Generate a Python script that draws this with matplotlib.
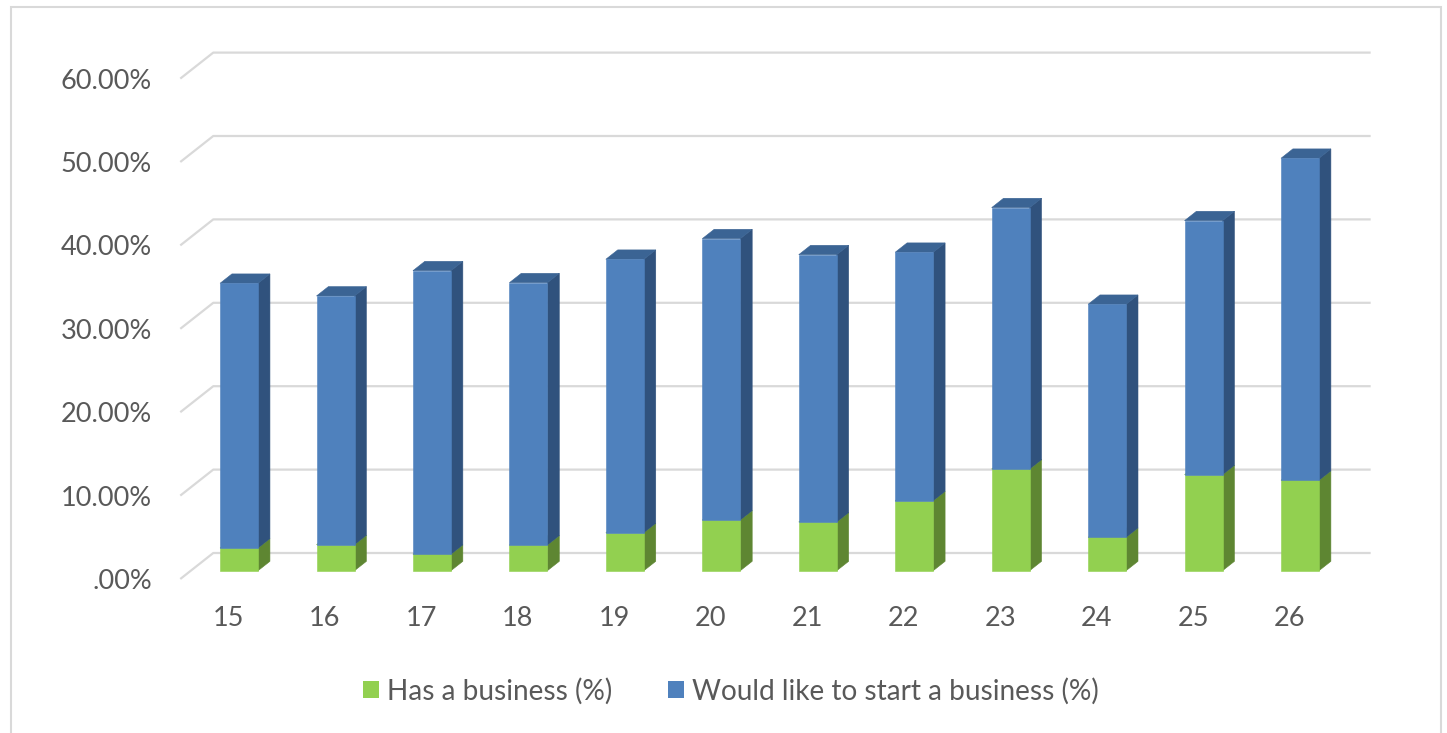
import matplotlib
matplotlib.use("Agg")
import matplotlib.pyplot as plt
from matplotlib.patches import Polygon, Patch, Rectangle
from matplotlib.lines import Line2D

# ---------------- data ----------------
ages = ["15", "16", "17", "18", "19", "20", "21", "22", "23", "24", "25", "26"]
has_business = [2.72, 3.12, 1.97, 3.08, 4.56, 6.08, 5.84, 8.39, 12.19, 4.00, 11.51, 10.84]
would_like = [31.74, 29.82, 34.00, 31.45, 32.78, 33.73, 32.05, 29.79, 31.34, 27.94, 30.46, 38.61]
y_ticks = [0, 10, 20, 30, 40, 50, 60]
y_tick_labels = [".00%", "10.00%", "20.00%", "30.00%", "40.00%", "50.00%", "60.00%"]
series_names = ["Has a business (%)", "Would like to start a business (%)"]

# ---------------- style ----------------
FONT = ["Lato", "DejaVu Sans"]
FS = 19.5
LEG_FS = 20.2
TEXT_C = "#595959"
GRID_C = "#D9D9D9"
COLORS = {
    "green": ("#92D050", "#5E8632", "#79B043"),
    "blue": ("#4F81BD", "#30527D", "#3B6494"),
}

W, H, DPI = 1447, 733, 100
fig = plt.figure(figsize=(W / DPI, H / DPI), dpi=DPI)
fig.patch.set_facecolor("white")

# pixel geometry of the oblique projection
PX_CAT = 96.45      # px per category
PX_PCT = 8.34       # px per percent
X0, Y0 = 228.5, 579.0   # px of category 0 / value 0 on the front plane
XLIM = (-0.80, 12.2)
YLIM = (-1.0, 64.0)
left_px = X0 + XLIM[0] * PX_CAT
right_px = X0 + XLIM[1] * PX_CAT
bot_px = Y0 - YLIM[0] * PX_PCT
top_px = Y0 - YLIM[1] * PX_PCT
ax = fig.add_axes([left_px / W, (H - bot_px) / H, (right_px - left_px) / W, (bot_px - top_px) / H])
ax.set_xlim(*XLIM)
ax.set_ylim(*YLIM)
for s in ax.spines.values():
    s.set_visible(False)
ax.set_facecolor("none")

DX = 33.0 / PX_CAT   # full depth, x
DY = 26.0 / PX_PCT   # full depth, y
D0, D1 = 0.32, 0.68  # bar depth range
HW = 19.0 / PX_CAT   # bar half width

n = len(ages)
# gridlines: floor/side diagonal + back wall line
for v in y_ticks:
    ax.add_line(Line2D([-0.5, -0.5 + DX, n - 0.5 + DX], [v, v + DY, v + DY],
                       color=GRID_C, lw=1.6, zorder=1, solid_capstyle="butt"))


def draw_segment(xc, b, t, cols, z):
    front, side, top = cols
    fx0, fx1 = xc - HW + D0 * DX, xc + HW + D0 * DX
    bx0, bx1 = xc - HW + D1 * DX, xc + HW + D1 * DX
    fb, ft = b + D0 * DY, t + D0 * DY
    bb, bt = b + D1 * DY, t + D1 * DY
    ax.add_patch(Polygon([(fx1, fb), (bx1, bb), (bx1, bt), (fx1, ft)], closed=True,
                         facecolor=side, edgecolor=side, lw=0.4, zorder=z))
    ax.add_patch(Polygon([(fx0, ft), (fx1, ft), (bx1, bt), (bx0, bt)], closed=True,
                         facecolor=top, edgecolor=top, lw=0.4, zorder=z))
    ax.add_patch(Polygon([(fx0, fb), (fx1, fb), (fx1, ft), (fx0, ft)], closed=True,
                         facecolor=front, edgecolor=front, lw=0.4, zorder=z + 0.1))


for i in range(n):
    g = has_business[i]
    w = would_like[i]
    draw_segment(i, 0, g, COLORS["green"], 3)
    draw_segment(i, g, g + w, COLORS["blue"], 4)

# ticks
ax.set_xticks(range(n))
ax.set_xticklabels(ages)
ax.set_yticks(y_ticks)
ax.set_yticklabels(y_tick_labels)
ax.tick_params(axis="both", length=0, colors=TEXT_C, labelsize=FS)
ax.tick_params(axis="y", pad=(left_px - 152.0) / DPI * 72)
ax.tick_params(axis="x", pad=(619.0 - bot_px) / DPI * 72)
for lbl in ax.get_xticklabels():
    lbl.set_va("center")
    lbl.set_family(FONT)
for lbl in ax.get_yticklabels():
    lbl.set_family(FONT)

# legend
handles = [Patch(facecolor=COLORS["green"][0], edgecolor="none"),
           Patch(facecolor=COLORS["blue"][0], edgecolor="none")]
pt = 72.0 / DPI
leg = fig.legend(handles, series_names, loc="center", bbox_to_anchor=(731 / W, 1 - 691 / H),
                 ncol=2, frameon=False, prop={"family": FONT, "size": LEG_FS},
                 handlelength=16 * pt / LEG_FS, handleheight=16 * pt / LEG_FS,
                 handletextpad=8 * pt / LEG_FS, columnspacing=56 * pt / LEG_FS, borderpad=0)
for t in leg.get_texts():
    t.set_color(TEXT_C)

# outer chart border
fig.add_artist(Rectangle((11 / W, -0.05), (1441 - 11) / W, (H - 7) / H + 0.05,
                         transform=fig.transFigure, fill=False, edgecolor=GRID_C, lw=1.5))

fig.savefig("out.png", dpi=DPI, facecolor="white")
